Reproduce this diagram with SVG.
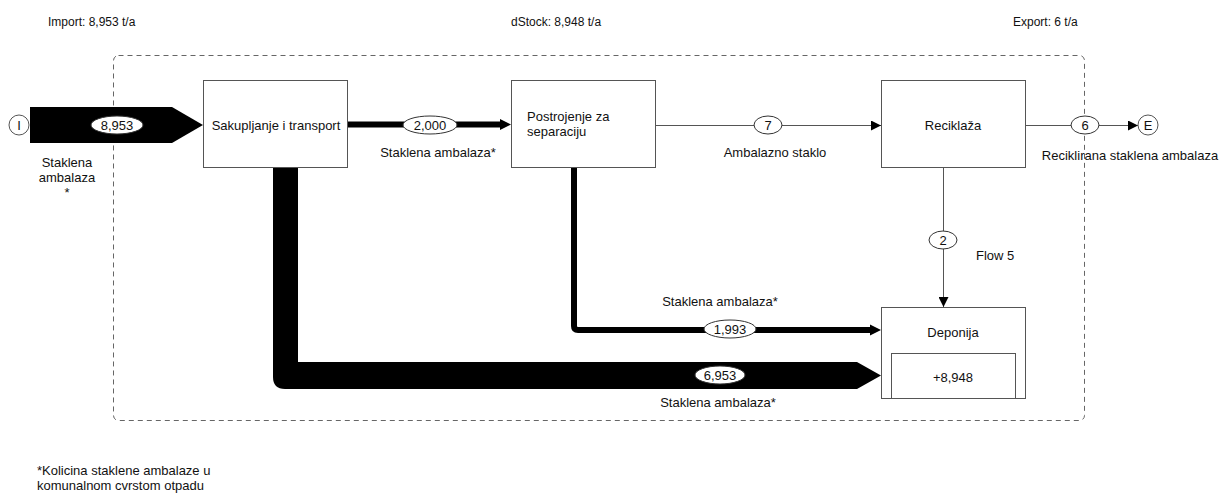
<svg xmlns="http://www.w3.org/2000/svg" width="1221" height="493" viewBox="0 0 1221 493">
  <style>
    text { font-family: "Liberation Sans", Arial, sans-serif; font-size: 13px; fill: #111; }
    .c { text-anchor: middle; }
    .hdr { font-size: 12px; }
    .box { fill: #fff; stroke: #555; stroke-width: 1; }
    .lbl { fill: #fff; stroke: #333; stroke-width: 1; }
    .thin { fill: none; stroke: #555; stroke-width: 1; }
    .mid { fill: none; stroke: #000; stroke-width: 6; }
  </style>
  <defs>
    <marker id="ah" markerWidth="10" markerHeight="10" refX="10" refY="5" orient="auto" markerUnits="userSpaceOnUse">
      <path d="M0,0 L10,5 L0,10 Z" fill="#000"/>
    </marker>
  </defs>

  <rect width="1221" height="493" fill="#fff"/>

  <!-- system boundary -->
  <rect x="113.5" y="55.5" width="971" height="365" rx="5" fill="none" stroke="#666" stroke-width="1" stroke-dasharray="5,4"/>
  <text class="hdr" x="48" y="26">Import: 8,953 t/a</text>
  <text class="hdr" x="511" y="26">dStock: 8,948 t/a</text>
  <text class="hdr" x="1013" y="26">Export: 6 t/a</text>

  <g id="connectors">
    <!-- import -->
    <polygon points="30,107 172,107 203,125 172,143 30,143" fill="#000"/>
    <ellipse class="lbl" cx="117" cy="125" rx="26" ry="9"/>
    <text class="c" x="117" y="130">8,953</text>
    <text class="c" x="67" y="167">Staklena</text>
    <text class="c" x="67" y="182">ambalaza</text>
    <text class="c" x="67" y="197">*</text>

    <!-- 2,000 -->
    <line class="mid" x1="348" y1="124.5" x2="501" y2="124.5"/>
    <polygon points="500,119 511,124.5 500,130" fill="#000"/>
    <ellipse class="lbl" cx="430" cy="125" rx="27" ry="9"/>
    <text class="c" x="430" y="130">2,000</text>
    <text class="c" x="438" y="157">Staklena ambalaza*</text>

    <!-- 7 -->
    <line class="thin" x1="655" y1="125.5" x2="881" y2="125.5" marker-end="url(#ah)"/>
    <ellipse class="lbl" cx="768" cy="125" rx="14" ry="9"/>
    <text class="c" x="768" y="130">7</text>
    <text class="c" x="775" y="157">Ambalazno staklo</text>

    <!-- 6 -->
    <line class="thin" x1="1026" y1="125.5" x2="1138" y2="125.5" marker-end="url(#ah)"/>
    <ellipse class="lbl" cx="1085" cy="125" rx="14" ry="9"/>
    <text class="c" x="1085" y="130">6</text>
    <text class="c" x="1130" y="160">Reciklirana staklena ambalaza</text>

    <!-- 2 -->
    <line class="thin" x1="943.5" y1="167" x2="943.5" y2="307" marker-end="url(#ah)"/>
    <ellipse class="lbl" cx="943" cy="240" rx="14" ry="9"/>
    <text class="c" x="943" y="245">2</text>
    <text x="976" y="260">Flow 5</text>

    <!-- 1,993 -->
    <path class="mid" d="M574,167 L574,326 Q574,330 578,330 L871,330"/>
    <polygon points="870,324.5 881,330 870,335.5" fill="#000"/>
    <ellipse class="lbl" cx="730" cy="329" rx="26" ry="9"/>
    <text class="c" x="730" y="334">1,993</text>
    <text class="c" x="720" y="306">Staklena ambalaza*</text>

    <!-- 6,953 -->
    <path d="M273,167 L298,167 L298,362 L857,362 L881,375.5 L857,389 L285,389 Q273,389 273,377 Z" fill="#000"/>
    <ellipse class="lbl" cx="720" cy="375" rx="25" ry="9"/>
    <text class="c" x="720" y="380">6,953</text>
    <text class="c" x="718" y="407">Staklena ambalaza*</text>

    <!-- export terminal -->
    <circle class="box" cx="1148" cy="125" r="10"/>
    <text class="c" x="1148" y="130">E</text>
    <!-- import terminal -->
    <circle class="box" cx="19" cy="125" r="10"/>
    <text class="c" x="19" y="130">I</text>
  </g>

  <g id="sakupljanje">
    <rect class="box" x="203.5" y="80.5" width="144" height="87"/>
    <text class="c" x="276" y="130">Sakupljanje i transport</text>
  </g>

  <g id="postrojenje">
    <rect class="box" x="511.5" y="80.5" width="144" height="87"/>
    <text x="527" y="121">Postrojenje za</text>
    <text x="527" y="136">separaciju</text>
  </g>

  <g id="reciklaza">
    <rect class="box" x="881.5" y="80.5" width="144" height="87"/>
    <text class="c" x="953" y="130">Reciklaža</text>
  </g>

  <g id="deponija">
    <rect class="box" x="881.5" y="307.5" width="144" height="91"/>
    <text class="c" x="953" y="337">Deponija</text>
    <rect class="box" x="891.5" y="353.5" width="124" height="45"/>
    <text class="c" x="953" y="382">+8,948</text>
  </g>

  <text x="37" y="475">*Kolicina staklene ambalaze u</text>
  <text x="37" y="490">komunalnom cvrstom otpadu</text>
</svg>
